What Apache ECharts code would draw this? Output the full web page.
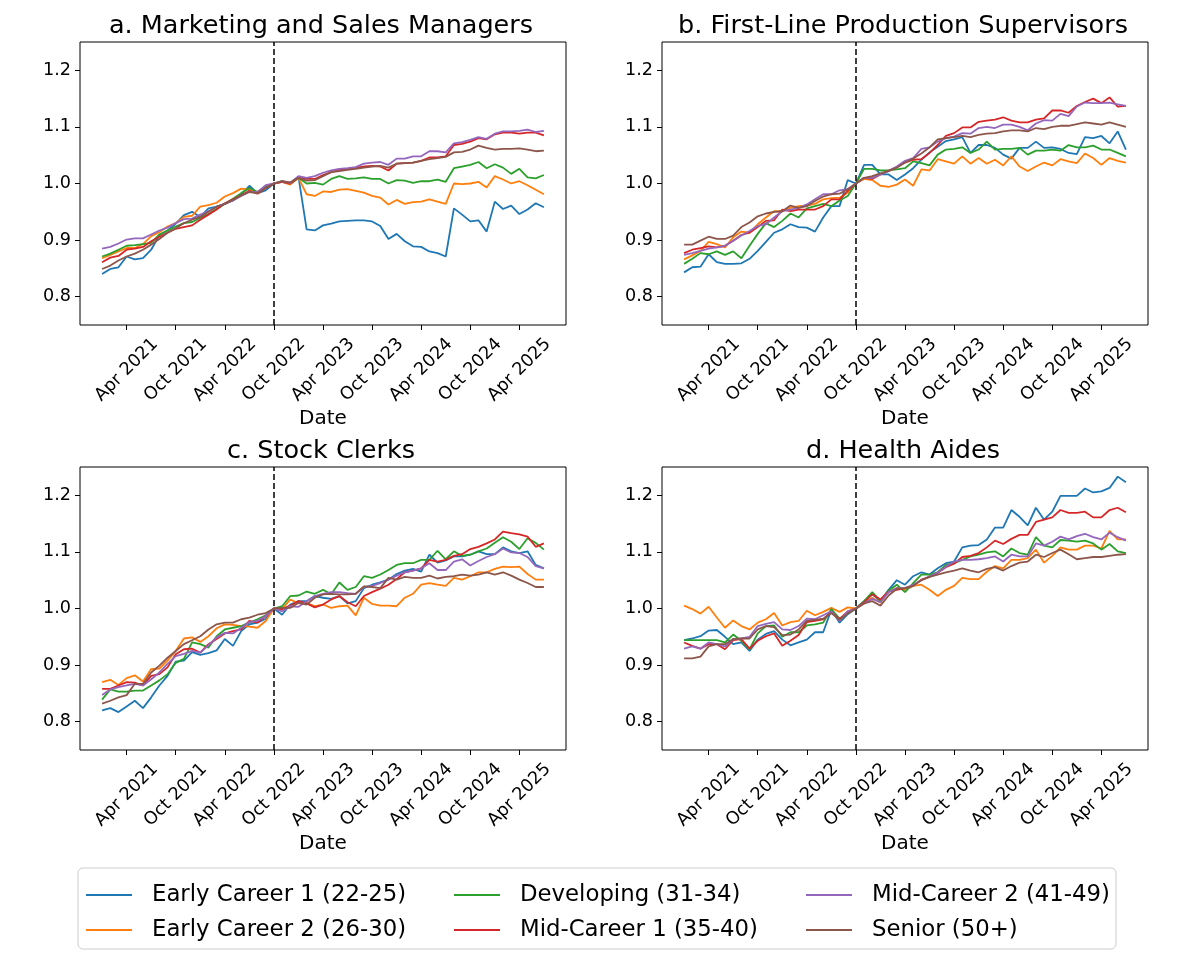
<!DOCTYPE html>
<html><head><meta charset="utf-8">
<script src="https://cdn.jsdelivr.net/npm/echarts@6/dist/echarts.min.js"></script>
<style>html,body{margin:0;padding:0;background:#fff}#c{width:1182px;height:960px}</style>
</head><body><div id="c"></div>
<script>
// ---------- categories / labels ----------
const months = ['2021-01','2021-02','2021-03','2021-04','2021-05','2021-06','2021-07','2021-08','2021-09','2021-10','2021-11','2021-12',
'2022-01','2022-02','2022-03','2022-04','2022-05','2022-06','2022-07','2022-08','2022-09','2022-10','2022-11','2022-12',
'2023-01','2023-02','2023-03','2023-04','2023-05','2023-06','2023-07','2023-08','2023-09','2023-10','2023-11','2023-12',
'2024-01','2024-02','2024-03','2024-04','2024-05','2024-06','2024-07','2024-08','2024-09','2024-10','2024-11','2024-12',
'2025-01','2025-02','2025-03','2025-04','2025-05','2025-06','2025-07'];
const tickMonths = ['2021-04','2021-10','2022-04','2022-10','2023-04','2023-10','2024-04','2024-10','2025-04'];
const tickLabels = ['Apr 2021','Oct 2021','Apr 2022','Oct 2022','Apr 2023','Oct 2023','Apr 2024','Oct 2024','Apr 2025'];
const yTicks = [0.8, 0.9, 1.0, 1.1, 1.2];
const policyMonth = '2022-10';
const panelTitles = ['a. Marketing and Sales Managers','b. First-Line Production Supervisors','c. Stock Clerks','d. Health Aides'];
const seriesNames = ['Early Career 1 (22-25)','Early Career 2 (26-30)','Developing (31-34)','Mid-Career 1 (35-40)','Mid-Career 2 (41-49)','Senior (50+)'];
const colors = ['#1f77b4','#ff7f0e','#2ca02c','#d62728','#9467bd','#8c564b'];

// ---------- a. Marketing and Sales Managers ----------
const A_early1 = [0.840,0.849,0.852,0.871,0.866,0.868,0.883,0.909,0.917,0.929,0.944,0.950,0.941,0.956,0.959,0.964,0.970,0.981,0.996,0.983,0.988,1.000,
1.003,1.000,1.012,0.919,0.917,0.926,0.929,0.933,0.934,0.935,0.935,0.933,0.925,0.902,0.911,0.898,0.889,0.888,0.880,0.877,0.871,0.956,0.945,0.933,0.935,0.915,0.968,0.955,0.961,0.946,0.954,0.965,0.958];
const A_early2 = [0.868,0.874,0.880,0.886,0.886,0.893,0.907,0.914,0.924,0.930,0.941,0.943,0.959,0.962,0.966,0.977,0.983,0.991,0.989,0.985,0.993,1.000,
1.003,0.998,1.010,0.981,0.978,0.986,0.985,0.989,0.990,0.987,0.984,0.978,0.975,0.963,0.971,0.964,0.967,0.968,0.972,0.968,0.964,1.000,0.999,1.000,1.003,0.993,1.013,1.007,1.000,1.004,0.997,0.989,0.981];
const A_dev = [0.871,0.876,0.883,0.890,0.891,0.893,0.895,0.910,0.917,0.924,0.930,0.932,0.939,0.946,0.955,0.964,0.973,0.983,0.992,0.985,0.994,1.000,
1.004,1.000,1.010,1.000,1.001,0.998,1.008,1.013,1.008,1.009,1.011,1.008,1.008,1.000,1.006,1.005,1.001,1.004,1.004,1.007,1.003,1.027,1.030,1.033,1.038,1.027,1.034,1.028,1.017,1.026,1.011,1.009,1.015];
const A_mid1 = [0.861,0.869,0.872,0.883,0.885,0.888,0.898,0.906,0.913,0.920,0.923,0.926,0.936,0.945,0.954,0.965,0.972,0.979,0.987,0.982,0.992,1.000,
1.003,1.000,1.010,1.008,1.008,1.015,1.020,1.024,1.026,1.028,1.030,1.031,1.030,1.023,1.035,1.036,1.037,1.040,1.046,1.046,1.048,1.068,1.070,1.074,1.080,1.078,1.087,1.090,1.090,1.088,1.090,1.090,1.085];
const A_mid2 = [0.885,0.888,0.894,0.901,0.903,0.903,0.910,0.917,0.922,0.930,0.937,0.938,0.945,0.951,0.959,0.964,0.970,0.978,0.985,0.985,0.997,1.000,
1.004,1.001,1.013,1.010,1.013,1.019,1.023,1.026,1.027,1.029,1.035,1.037,1.038,1.033,1.044,1.044,1.048,1.048,1.057,1.057,1.055,1.071,1.073,1.077,1.082,1.079,1.088,1.092,1.092,1.093,1.095,1.091,1.093];
const A_senior = [0.849,0.855,0.864,0.871,0.876,0.883,0.892,0.902,0.913,0.921,0.930,0.936,0.941,0.950,0.959,0.964,0.971,0.979,0.985,0.983,0.992,1.000,
1.004,1.002,1.010,1.005,1.006,1.013,1.020,1.022,1.024,1.026,1.028,1.030,1.031,1.028,1.035,1.036,1.037,1.040,1.043,1.045,1.047,1.055,1.056,1.060,1.067,1.063,1.060,1.061,1.061,1.062,1.060,1.057,1.058];

// ---------- b. First-Line Production Supervisors ----------
const B_early1 = [0.843,0.852,0.853,0.875,0.861,0.858,0.858,0.859,0.867,0.881,0.897,0.913,0.919,0.928,0.923,0.922,0.915,0.940,0.960,0.960,1.006,1.000,
1.033,1.033,1.016,1.016,1.006,1.016,1.027,1.042,1.055,1.065,1.075,1.078,1.082,1.054,1.068,1.068,1.063,1.051,1.044,1.063,1.063,1.074,1.063,1.064,1.061,1.054,1.052,1.082,1.080,1.084,1.071,1.092,1.060];
const B_early2 = [0.866,0.873,0.881,0.897,0.893,0.887,0.905,0.915,0.913,0.928,0.940,0.951,0.951,0.957,0.960,0.961,0.964,0.972,0.974,0.975,0.984,1.000,
1.008,1.006,0.996,0.994,0.998,1.007,0.996,1.025,1.023,1.043,1.039,1.035,1.048,1.035,1.045,1.035,1.042,1.032,1.048,1.030,1.022,1.030,1.037,1.032,1.043,1.039,1.036,1.053,1.045,1.033,1.045,1.040,1.037];
const B_dev = [0.858,0.867,0.877,0.875,0.880,0.874,0.880,0.868,0.890,0.911,0.930,0.923,0.934,0.947,0.940,0.956,0.960,0.964,0.960,0.970,0.978,1.000,
1.026,1.026,1.023,1.023,1.025,1.027,1.039,1.036,1.032,1.051,1.060,1.061,1.064,1.054,1.060,1.074,1.060,1.061,1.061,1.063,1.051,1.058,1.058,1.060,1.058,1.068,1.064,1.064,1.067,1.060,1.060,1.054,1.048];
const B_mid1 = [0.877,0.883,0.886,0.889,0.887,0.890,0.899,0.909,0.913,0.923,0.934,0.935,0.954,0.951,0.954,0.954,0.954,0.960,0.972,0.972,0.987,1.000,
1.010,1.008,1.016,1.023,1.029,1.037,1.042,1.043,1.054,1.068,1.084,1.089,1.099,1.099,1.109,1.111,1.113,1.117,1.111,1.108,1.108,1.113,1.115,1.129,1.129,1.125,1.137,1.144,1.150,1.142,1.152,1.136,1.137];
const B_mid2 = [0.874,0.877,0.881,0.885,0.887,0.890,0.899,0.908,0.916,0.925,0.928,0.940,0.951,0.954,0.957,0.963,0.972,0.981,0.981,0.988,0.990,1.000,
1.010,1.010,1.016,1.022,1.030,1.040,1.045,1.061,1.064,1.074,1.080,1.083,1.089,1.088,1.098,1.100,1.098,1.104,1.104,1.100,1.094,1.106,1.112,1.111,1.123,1.119,1.136,1.143,1.142,1.142,1.143,1.140,1.137];
const B_senior = [0.892,0.892,0.899,0.906,0.902,0.902,0.908,0.923,0.931,0.942,0.947,0.950,0.951,0.961,0.957,0.960,0.969,0.977,0.981,0.982,0.990,1.000,
1.010,1.013,1.018,1.022,1.028,1.037,1.044,1.053,1.064,1.078,1.080,1.082,1.084,1.082,1.086,1.088,1.089,1.092,1.094,1.094,1.092,1.098,1.096,1.100,1.102,1.102,1.105,1.108,1.106,1.104,1.108,1.104,1.100];

// ---------- c. Stock Clerks ----------
const C_early1 = [0.820,0.824,0.817,0.827,0.837,0.824,0.843,0.864,0.881,0.906,0.908,0.923,0.918,0.921,0.926,0.946,0.934,0.960,0.972,0.975,0.982,1.000,
0.989,1.007,1.013,1.013,1.022,1.019,1.017,1.022,1.009,1.013,1.036,1.042,1.046,1.051,1.061,1.067,1.070,1.065,1.095,1.081,1.085,1.092,1.092,1.095,1.101,1.096,1.096,1.108,1.101,1.098,1.101,1.077,1.071];
const C_early2 = [0.870,0.874,0.865,0.877,0.882,0.871,0.893,0.894,0.908,0.925,0.947,0.949,0.941,0.951,0.965,0.972,0.971,0.969,0.968,0.966,0.978,1.000,
0.999,1.016,1.009,1.010,1.004,1.007,1.001,1.004,1.005,0.988,1.019,1.008,1.005,1.005,1.004,1.019,1.026,1.042,1.045,1.042,1.040,1.054,1.051,1.057,1.064,1.064,1.070,1.074,1.073,1.074,1.061,1.051,1.051];
const C_dev = [0.839,0.857,0.853,0.853,0.855,0.855,0.864,0.873,0.884,0.904,0.911,0.940,0.937,0.931,0.951,0.963,0.966,0.969,0.975,0.981,0.988,1.000,
1.004,1.022,1.023,1.030,1.026,1.033,1.025,1.046,1.033,1.038,1.057,1.054,1.060,1.068,1.077,1.080,1.080,1.086,1.086,1.102,1.087,1.101,1.093,1.095,1.101,1.106,1.116,1.126,1.118,1.105,1.124,1.116,1.104];
const C_mid1 = [0.858,0.858,0.864,0.870,0.869,0.864,0.881,0.884,0.896,0.919,0.928,0.929,0.922,0.937,0.946,0.956,0.960,0.963,0.978,0.975,0.987,1.000,
0.999,1.005,1.013,1.009,1.002,1.007,1.016,1.022,1.011,1.004,1.022,1.029,1.035,1.042,1.052,1.064,1.067,1.071,1.086,1.083,1.086,1.093,1.096,1.105,1.109,1.115,1.122,1.136,1.133,1.131,1.127,1.109,1.115];
const C_mid2 = [0.847,0.857,0.861,0.864,0.867,0.864,0.875,0.887,0.902,0.916,0.920,0.925,0.922,0.935,0.949,0.957,0.956,0.966,0.976,0.978,0.987,1.000,
0.995,1.004,1.003,1.013,1.022,1.026,1.029,1.029,1.027,1.026,1.038,1.040,1.045,1.051,1.058,1.064,1.067,1.071,1.080,1.068,1.068,1.083,1.087,1.076,1.084,1.091,1.096,1.106,1.099,1.098,1.091,1.075,1.071];
const C_senior = [0.832,0.837,0.843,0.847,0.867,0.867,0.887,0.899,0.913,0.925,0.937,0.944,0.951,0.963,0.972,0.975,0.975,0.981,0.984,0.989,0.992,1.000,
1.001,1.001,1.010,1.007,1.019,1.025,1.026,1.025,1.025,1.026,1.039,1.038,1.036,1.054,1.051,1.056,1.054,1.054,1.058,1.053,1.056,1.057,1.060,1.058,1.060,1.064,1.060,1.064,1.058,1.051,1.045,1.038,1.038];

// ---------- d. Health Aides ----------
const D_early1 = [0.944,0.947,0.951,0.961,0.962,0.950,0.937,0.940,0.925,0.945,0.955,0.960,0.945,0.935,0.940,0.945,0.958,0.958,0.998,0.975,0.990,1.000,
1.013,1.025,1.013,1.033,1.050,1.042,1.057,1.064,1.060,1.071,1.080,1.083,1.108,1.111,1.112,1.122,1.143,1.143,1.174,1.162,1.147,1.178,1.157,1.171,1.199,1.199,1.199,1.212,1.205,1.207,1.213,1.233,1.223];
const D_early2 = [1.005,0.999,0.991,1.003,0.984,0.966,0.979,0.969,0.963,0.975,0.981,0.992,0.970,0.976,0.978,0.996,0.988,0.994,1.001,0.994,1.002,1.000,
1.009,1.019,1.010,1.030,1.036,1.033,1.040,1.042,1.033,1.022,1.033,1.040,1.054,1.052,1.052,1.065,1.075,1.071,1.086,1.086,1.089,1.104,1.081,1.093,1.108,1.104,1.104,1.111,1.111,1.106,1.137,1.122,1.122];
const D_dev = [0.944,0.944,0.944,0.944,0.944,0.940,0.954,0.943,0.928,0.956,0.969,0.970,0.950,0.958,0.958,0.970,0.972,0.975,0.999,0.982,0.992,1.000,
1.013,1.029,1.013,1.032,1.042,1.029,1.045,1.060,1.060,1.064,1.077,1.080,1.086,1.092,1.095,1.099,1.101,1.092,1.106,1.098,1.095,1.126,1.111,1.108,1.121,1.120,1.118,1.120,1.115,1.104,1.114,1.101,1.098];
const D_mid1 = [0.940,0.934,0.929,0.937,0.937,0.928,0.944,0.946,0.929,0.943,0.951,0.956,0.934,0.943,0.953,0.976,0.978,0.981,0.994,0.981,0.995,1.000,
1.011,1.025,1.016,1.030,1.033,1.036,1.040,1.051,1.056,1.063,1.073,1.079,1.091,1.093,1.098,1.108,1.120,1.114,1.123,1.130,1.130,1.153,1.157,1.161,1.174,1.169,1.169,1.171,1.161,1.161,1.174,1.178,1.170];
const D_mid2 = [0.929,0.933,0.929,0.940,0.937,0.933,0.946,0.947,0.950,0.969,0.973,0.976,0.963,0.962,0.969,0.982,0.981,0.988,0.995,0.978,0.995,1.000,
1.009,1.017,1.011,1.029,1.036,1.036,1.042,1.050,1.057,1.063,1.074,1.083,1.086,1.086,1.087,1.089,1.092,1.083,1.095,1.092,1.092,1.115,1.111,1.118,1.127,1.122,1.128,1.132,1.126,1.122,1.134,1.126,1.120];
const D_senior = [0.912,0.912,0.915,0.933,0.937,0.937,0.946,0.947,0.947,0.963,0.969,0.967,0.953,0.954,0.963,0.978,0.980,0.982,0.992,0.980,0.991,1.000,
1.009,1.013,1.005,1.023,1.035,1.036,1.040,1.050,1.056,1.060,1.064,1.067,1.071,1.067,1.064,1.070,1.073,1.067,1.075,1.081,1.083,1.095,1.091,1.098,1.104,1.096,1.087,1.089,1.091,1.091,1.093,1.095,1.096];

const panels = [
  [A_early1, A_early2, A_dev, A_mid1, A_mid2, A_senior],
  [B_early1, B_early2, B_dev, B_mid1, B_mid2, B_senior],
  [C_early1, C_early2, C_dev, C_mid1, C_mid2, C_senior],
  [D_early1, D_early2, D_dev, D_mid1, D_mid2, D_senior]
];

// ---------- layout ----------
const FONT = 'DejaVu Sans';
const gridPos = [
  {left: 80,  top: 42,  width: 486, height: 283},
  {left: 662, top: 42,  width: 486, height: 283},
  {left: 80,  top: 467, width: 486, height: 283},
  {left: 662, top: 467, width: 486, height: 283}
];
const titleTops = [13, 13, 438, 438];

const n = months.length;
const pad = (n - 1) * 0.05;
const tickIdx = tickMonths.map(m => months.indexOf(m));
const policyIdx = months.indexOf(policyMonth);

const grids = [], xAxes = [], yAxes = [], series = [], titles = [];
gridPos.forEach((g, k) => {
  grids.push(Object.assign({show: true, borderColor: '#000', borderWidth: 1, backgroundColor: 'transparent', containLabel: false}, g));
  titles.push({text: panelTitles[k], left: g.left + g.width / 2 - 2, top: titleTops[k], textAlign: 'center', padding: 0,
    textStyle: {fontFamily: FONT, fontSize: 25.5, fontWeight: 'normal', color: '#000'}});
  xAxes.push({
    type: 'value', gridIndex: k, min: -pad, max: (n - 1) + pad,
    name: 'Date', nameLocation: 'middle', nameGap: 84,
    nameTextStyle: {fontFamily: FONT, fontSize: 20, color: '#000'},
    axisLine: {show: false, onZero: false}, splitLine: {show: false},
    axisTick: {show: true, customValues: tickIdx, length: 5, lineStyle: {color: '#000', width: 1}},
    axisLabel: {customValues: tickIdx, rotate: 45, align: 'center', verticalAlign: 'middle', margin: 45,
      fontFamily: FONT, fontSize: 17.6, color: '#000',
      formatter: v => tickLabels[tickIdx.indexOf(Math.round(v))] || ''}
  });
  yAxes.push({
    type: 'value', gridIndex: k, min: 0.75, max: 1.25,
    axisLine: {show: false, onZero: false}, splitLine: {show: false},
    axisTick: {show: true, customValues: yTicks, length: 5, lineStyle: {color: '#000', width: 1}},
    axisLabel: {customValues: yTicks, fontFamily: FONT, fontSize: 17.6, color: '#000', margin: 9,
      formatter: v => Number(v).toFixed(1)}
  });
  panels[k].forEach((vals, s) => {
    const ser = {
      type: 'line', name: seriesNames[s], xAxisIndex: k, yAxisIndex: k,
      data: vals.map((v, i) => [i, v]),
      symbol: 'none', showSymbol: false, color: colors[s],
      lineStyle: {width: 1.8, color: colors[s]}, z: 2 + s
    };
    if (s === 0) {
      ser.markLine = {silent: true, symbol: ['none', 'none'], label: {show: false},
        lineStyle: {color: '#000', type: [6, 3], width: 1.5},
        data: [{xAxis: policyIdx}], animation: false};
    }
    series.push(ser);
  });
});

const legendCols = [[0, 1], [2, 3], [4, 5]];
const legendLefts = [86, 454, 806];
const legends = legendCols.map((c, j) => ({
  orient: 'vertical', left: legendLefts[j], top: 882, padding: 0,
  data: c.map(i => ({name: seriesNames[i], icon: 'rect'})), selectedMode: false,
  itemWidth: 46, itemHeight: 2, itemGap: 9,
  textStyle: {fontFamily: FONT, fontSize: 22.8, color: '#000', lineHeight: 26, padding: [0, 0, 0, 15]}
}));

const chart = echarts.init(document.getElementById('c'), null, {renderer: 'canvas'});
chart.setOption({
  animation: false,
  backgroundColor: '#fff',
  title: titles,
  grid: grids,
  xAxis: xAxes,
  yAxis: yAxes,
  legend: legends,
  graphic: [{type: 'rect', shape: {x: 78, y: 868, width: 1038, height: 81, r: 5},
    style: {fill: 'transparent', stroke: '#cccccc', lineWidth: 1}, z: 0, silent: true}],
  series: series
});
</script>
</body></html>
